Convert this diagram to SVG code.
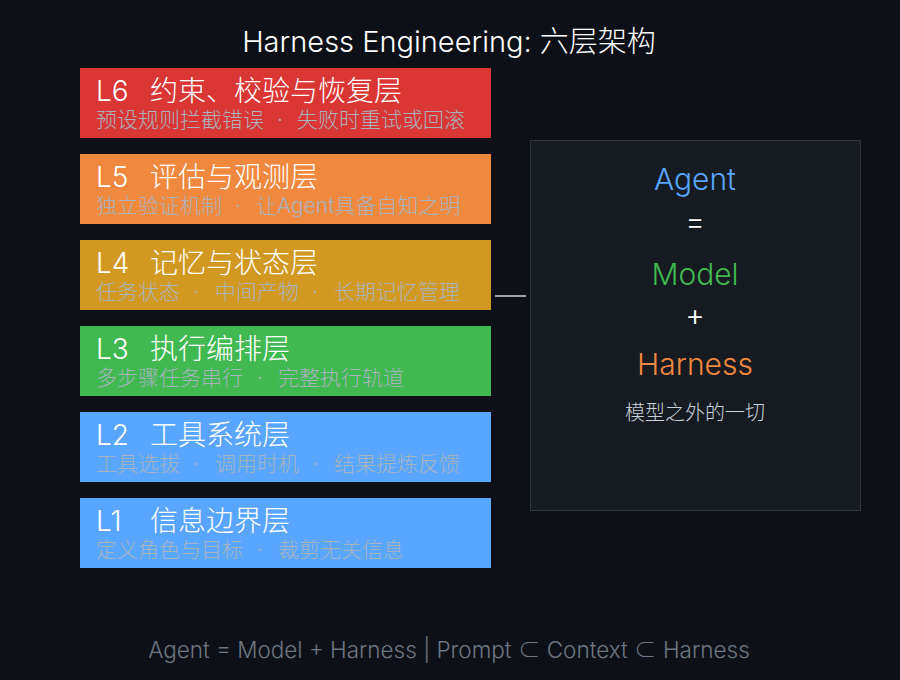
<svg xmlns="http://www.w3.org/2000/svg" width="900" height="680" viewBox="0 0 900 680" xml:space="preserve">
<style>
text{font-family:Inter,"Noto Sans CJK SC",sans-serif;white-space:pre}
.t{fill:#ffffff;font-size:28px;font-weight:300}
.s{fill:#a9b3be;font-size:21px;font-weight:300}
.c{text-anchor:middle}
</style>
<rect width="900" height="680" fill="#0d1117"/>
<text class="c" x="449" y="52" fill="#ffffff" font-size="29" font-weight="300">Harness Engineering: 六层架构</text>
<g id="L6"><rect x="80" y="68" width="411" height="70" fill="#da3633"/><text class="t" x="96" y="101">L6<tspan x="150">约束、校验与恢复层</tspan></text><text class="s" y="127"><tspan x="96">预设规则拦截错误</tspan><tspan x="277">·</tspan><tspan x="297">失败时重试或回滚</tspan></text></g>
<g id="L5"><rect x="80" y="154" width="411" height="70" fill="#f0883e"/><text class="t" x="96" y="187">L5<tspan x="150">评估与观测层</tspan></text><text class="s" y="213"><tspan x="96">独立验证机制</tspan><tspan x="235">·</tspan><tspan x="256">让Agent具备自知之明</tspan></text></g>
<g id="L4"><rect x="80" y="240" width="411" height="70" fill="#d29922"/><text class="t" x="96" y="273">L4<tspan x="150">记忆与状态层</tspan></text><text class="s" y="299"><tspan x="96">任务状态</tspan><tspan x="193">·</tspan><tspan x="215">中间产物</tspan><tspan x="312">·</tspan><tspan x="334">长期记忆管理</tspan></text></g>
<g id="L3"><rect x="80" y="326" width="411" height="70" fill="#3fb950"/><text class="t" x="96" y="359">L3<tspan x="150">执行编排层</tspan></text><text class="s" y="385"><tspan x="96">多步骤任务串行</tspan><tspan x="257">·</tspan><tspan x="278">完整执行轨道</tspan></text></g>
<g id="L2"><rect x="80" y="412" width="411" height="70" fill="#58a6ff"/><text class="t" x="96" y="445">L2<tspan x="150">工具系统层</tspan></text><text class="s" y="471"><tspan x="96">工具选拔</tspan><tspan x="193">·</tspan><tspan x="215">调用时机</tspan><tspan x="312">·</tspan><tspan x="334">结果提炼反馈</tspan></text></g>
<g id="L1"><rect x="80" y="498" width="411" height="70" fill="#58a6ff"/><text class="t" x="96" y="531">L1<tspan x="150">信息边界层</tspan></text><text class="s" y="557"><tspan x="96">定义角色与目标</tspan><tspan x="257">·</tspan><tspan x="278">裁剪无关信息</tspan></text></g>
<g id="connectors"><line x1="495" y1="296" x2="526" y2="296" stroke="#c9d1d9" stroke-width="1.5"/></g>
<g id="panel">
<rect x="530.5" y="140.5" width="330" height="370" fill="#161b22" stroke="#30363d" stroke-width="1"/>
<text class="c" x="695" y="190" fill="#58a6ff" font-size="30" font-weight="300">Agent</text>
<text class="c" x="695" y="232" fill="#ffffff" font-size="30" font-weight="300">=</text>
<text class="c" x="695" y="285" fill="#3fb950" font-size="30" font-weight="300">Model</text>
<text class="c" x="695" y="326" fill="#ffffff" font-size="30" font-weight="300">+</text>
<text class="c" x="695" y="375" fill="#f0883e" font-size="30" font-weight="300">Harness</text>
<text class="c" x="695" y="420" fill="#c9d1d9" font-size="20" font-weight="300">模型之外的一切</text>
</g>
<text class="c" x="449" y="658" fill="#6e7681" font-size="22.5" font-weight="300">Agent = Model + Harness | Prompt ⊂ Context ⊂ Harness</text>
</svg>
